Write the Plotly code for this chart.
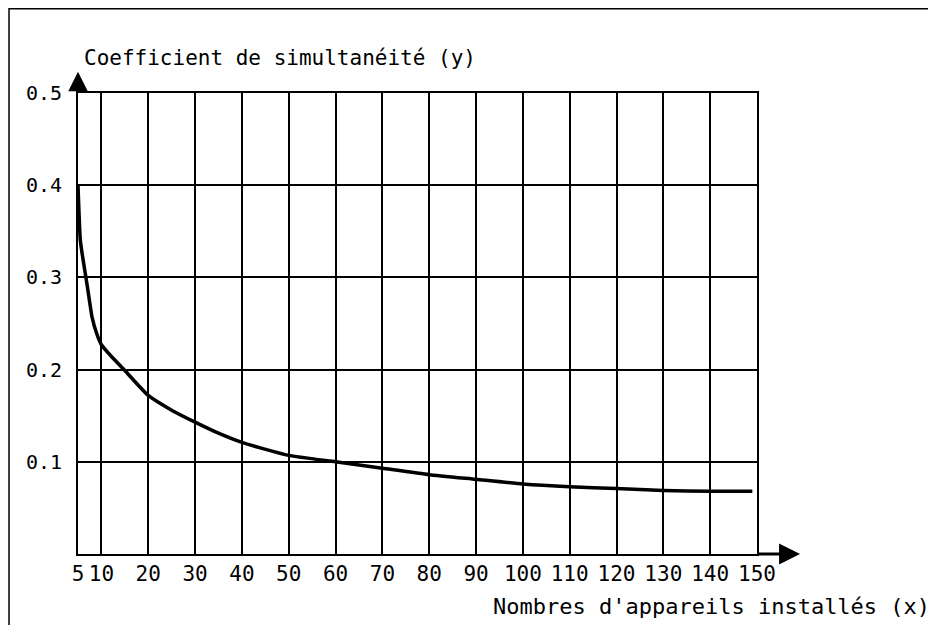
import plotly.graph_objects as go

# Data
x_count = [5, 5.5, 6, 7, 8, 9, 10, 12, 15, 20, 25, 30, 35, 40, 50, 60, 70, 80, 90, 100, 110, 120, 130, 140, 149]
y_coef = [0.40, 0.34, 0.322, 0.29, 0.257, 0.239, 0.227, 0.215, 0.199, 0.172, 0.156, 0.143, 0.131, 0.121, 0.107,
          0.100, 0.093, 0.086, 0.081, 0.076, 0.073, 0.071, 0.069, 0.068, 0.068]
x_ticks = [5, 10, 20, 30, 40, 50, 60, 70, 80, 90, 100, 110, 120, 130, 140, 150]
y_ticks = [0.1, 0.2, 0.3, 0.4, 0.5]
y_tick_text = ["0.1", "0.2", "0.3", "0.4", "0.5"]

FONT = "DejaVu Sans Mono"

fig = go.Figure()
fig.add_trace(go.Scatter(x=x_count, y=y_coef, mode="lines",
                         line=dict(color="black", width=3.5, shape="spline", smoothing=0.5),
                         hoverinfo="skip", showlegend=False))

fig.update_xaxes(range=[5, 150], tickvals=x_ticks, ticktext=[str(v) for v in x_ticks],
                 showgrid=True, gridcolor="black", gridwidth=2,
                 showline=True, linecolor="black", linewidth=2, mirror=True,
                 zeroline=False, ticks="", ticklabelstandoff=0,
                 tickfont=dict(family=FONT, size=21, color="black"))
fig.update_yaxes(range=[0, 0.5], tickvals=y_ticks, ticktext=y_tick_text,
                 showgrid=True, gridcolor="black", gridwidth=2,
                 showline=True, linecolor="black", linewidth=2, mirror=True,
                 zeroline=False, ticks="", ticklabelstandoff=10,
                 tickfont=dict(family=FONT, size=20, color="black"))

# Axis arrows
fig.add_annotation(x=5, y=0.523, ax=5, ay=0.5, xref="x", yref="y", axref="x", ayref="y",
                   text="", showarrow=True, arrowhead=2, arrowsize=1.3, arrowwidth=3, arrowcolor="black")
fig.add_annotation(x=159.2, y=0, ax=150, ay=0, xref="x", yref="y", axref="x", ayref="y",
                   text="", showarrow=True, arrowhead=2, arrowsize=1.4, arrowwidth=3, arrowcolor="black")

# Axis titles
fig.add_annotation(text="Coefficient de simultanéité (y)", xref="paper", yref="paper",
                   x=0, y=1, xanchor="left", yanchor="middle", xshift=4, yshift=35,
                   showarrow=False, font=dict(family=FONT, size=21, color="black"))
fig.add_annotation(text="Nombres d'appareils installés (x)", xref="paper", yref="paper",
                   x=1, y=0, xanchor="right", yanchor="middle", xshift=175, yshift=-52,
                   showarrow=False, font=dict(family=FONT, size=22, color="black"))

# Outer drawing frame (top and left edges)
fig.add_shape(type="rect", xref="paper", yref="paper",
              x0=-0.1016, y0=-0.5, x1=1.6, y1=1.1828,
              line=dict(color="black", width=1.5), fillcolor="rgba(0,0,0,0)")

fig.update_layout(width=928, height=617,
                  margin=dict(l=70, r=179, t=85, b=71),
                  paper_bgcolor="white", plot_bgcolor="white")

fig.write_html("out.html")
